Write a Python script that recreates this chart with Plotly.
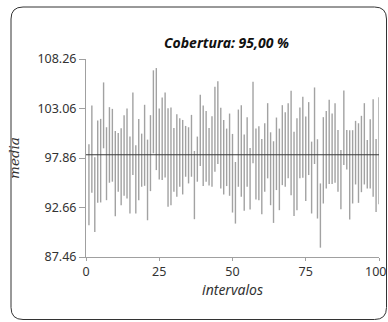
import plotly.graph_objects as go

# ---- data ----
interval_index = list(range(1, 101))
lower = [90.80, 94.20, 90.09, 93.15, 93.19, 98.88, 93.43, 95.26, 95.37, 91.74,
         94.31, 92.90, 93.89, 93.61, 92.03, 96.07, 92.03, 93.43, 94.84, 94.94,
         91.32, 94.38, 98.35, 96.59, 95.61, 95.54, 95.82, 92.73, 92.90, 94.31,
         93.78, 94.84, 94.03, 95.89, 95.19, 95.89, 91.43, 95.37, 97.02, 94.91,
         95.37, 94.98, 94.84, 96.42, 97.23, 94.66, 94.03, 94.91, 93.89, 92.13,
         90.97, 94.84, 93.78, 92.31, 94.84, 92.45, 97.30, 93.50, 93.43, 91.96,
         94.31, 95.72, 92.90, 91.04, 94.49, 92.38, 95.01, 94.84, 95.72, 93.96,
         91.78, 92.38, 95.72, 95.79, 93.33, 96.07, 92.03, 97.23, 91.50, 88.44,
         93.08, 94.66, 95.12, 95.12, 95.26, 94.31, 92.48, 97.12, 96.66, 91.39,
         93.08, 95.08, 93.15, 94.27, 95.08, 94.66, 94.66, 93.78, 92.20, 93.01]
upper = [99.30, 103.38, 97.93, 101.79, 101.97, 105.80, 101.09, 103.20, 103.02, 100.70,
         100.49, 100.99, 102.36, 103.06, 100.11, 104.75, 99.19, 101.97, 100.42, 103.45,
         99.79, 102.36, 107.07, 107.31, 103.06, 104.22, 104.75, 103.09, 103.16, 101.02,
         102.46, 102.04, 101.86, 101.23, 101.09, 102.39, 98.60, 100.11, 104.50, 103.38,
         102.81, 101.02, 102.25, 105.34, 105.91, 103.13, 101.86, 100.95, 102.53, 100.39,
         97.44, 102.95, 103.41, 100.32, 102.15, 98.91, 105.87, 100.95, 101.20, 99.86,
         101.51, 103.62, 100.56, 99.62, 102.11, 100.95, 103.41, 102.67, 103.62, 104.92,
         100.63, 102.04, 103.17, 104.29, 102.22, 103.73, 99.58, 105.27, 99.83, 95.19,
         102.15, 102.81, 103.97, 102.53, 103.62, 100.81, 98.70, 104.96, 100.81, 100.78,
         100.78, 101.76, 101.51, 102.29, 103.62, 99.76, 101.93, 104.04, 99.86, 104.25]
true_mean = 98.2
y_ticks = [87.46, 92.66, 97.86, 103.06, 108.26]
y_tick_labels = ["87.46", "92.66", "97.86", "103.06", "108.26"]
x_ticks = [0, 25, 50, 75, 100]
x_tick_labels = ["0", "25", "50", "75", "100"]
title_text = "Cobertura: 95,00 %"
x_title = "intervalos"
y_title = "media"

# ---- layout geometry ----
W, H = 388, 322
ML, MR, MT, MB = 86, 9, 59, 65
PW, PH = W - ML - MR, H - MT - MB


def px_x(px):
    return (px - ML) / PW


def px_y(py):
    return (H - MB - py) / PH


FONT = "Noto Sans"
TICK_SIZE = 12.5

xs, ys = [], []
for i, lo, hi in zip(interval_index, lower, upper):
    xs += [i, i, None]
    ys += [lo, hi, None]

fig = go.Figure()
fig.add_trace(go.Scatter(x=xs, y=ys, mode="lines",
                         line=dict(color="#a2a2a2", width=1.4),
                         hoverinfo="skip", showlegend=False))
fig.add_trace(go.Scatter(x=[0, 100], y=[true_mean, true_mean], mode="lines",
                         line=dict(color="#3a3a3a", width=1),
                         hoverinfo="skip", showlegend=False))

# rounded border
x0, x1 = px_x(11), px_x(386.5)
y0, y1 = px_y(319.5), px_y(7)
rx, ry = 12 / PW, 12 / PH
path = (f"M {x0+rx},{y1} L {x1-rx},{y1} Q {x1},{y1} {x1},{y1-ry} "
        f"L {x1},{y0+ry} Q {x1},{y0} {x1-rx},{y0} L {x0+rx},{y0} "
        f"Q {x0},{y0} {x0},{y0+ry} L {x0},{y1-ry} Q {x0},{y1} {x0+rx},{y1} Z")
fig.add_shape(type="path", path=path, xref="paper", yref="paper",
              line=dict(color="#333333", width=1))

fig.add_annotation(text=f"<b><i>{title_text}</i></b>", x=px_x(226.5), y=px_y(43),
                   xref="paper", yref="paper", showarrow=False,
                   font=dict(family=FONT, size=14, color="#111111"),
                   xanchor="center", yanchor="middle")

# last x tick label, nudged inside the page like the reference
fig.add_annotation(text=x_tick_labels[-1], x=px_x(387), y=px_y(271),
                   xref="paper", yref="paper", showarrow=False,
                   font=dict(family=FONT, size=TICK_SIZE, color="#333333"),
                   xanchor="right", yanchor="middle", borderpad=0, xshift=0)

fig.update_layout(
    width=W, height=H,
    margin=dict(l=ML, r=MR, t=MT, b=MB, autoexpand=False),
    paper_bgcolor="white", plot_bgcolor="white",
    font=dict(family=FONT, size=TICK_SIZE, color="#333333"),
    xaxis=dict(range=[0, 100], tickvals=x_ticks,
               ticktext=x_tick_labels[:-1] + [""],
               showgrid=False, zeroline=False,
               showline=True, linecolor="#a0a0a0", linewidth=1,
               ticks="outside", ticklen=3, tickcolor="#a0a0a0",
               automargin=False,
               title=dict(text=f"<i>{x_title}</i>", standoff=4,
                          font=dict(size=14))),
    yaxis=dict(range=[87.46, 108.26], tickvals=y_ticks, ticktext=y_tick_labels,
               showgrid=False, zeroline=False, automargin=False,
               showline=True, linecolor="#a0a0a0", linewidth=1,
               ticks="outside", ticklen=6, tickcolor="#a0a0a0",
               title=dict(text=f"<i>{y_title}</i>", standoff=14,
                          font=dict(family="DejaVu Serif", size=13.5))),
)

fig.write_html("out.html", config={"displayModeBar": False},
               post_script="document.body.style.margin='0';document.body.style.overflow='hidden';")
